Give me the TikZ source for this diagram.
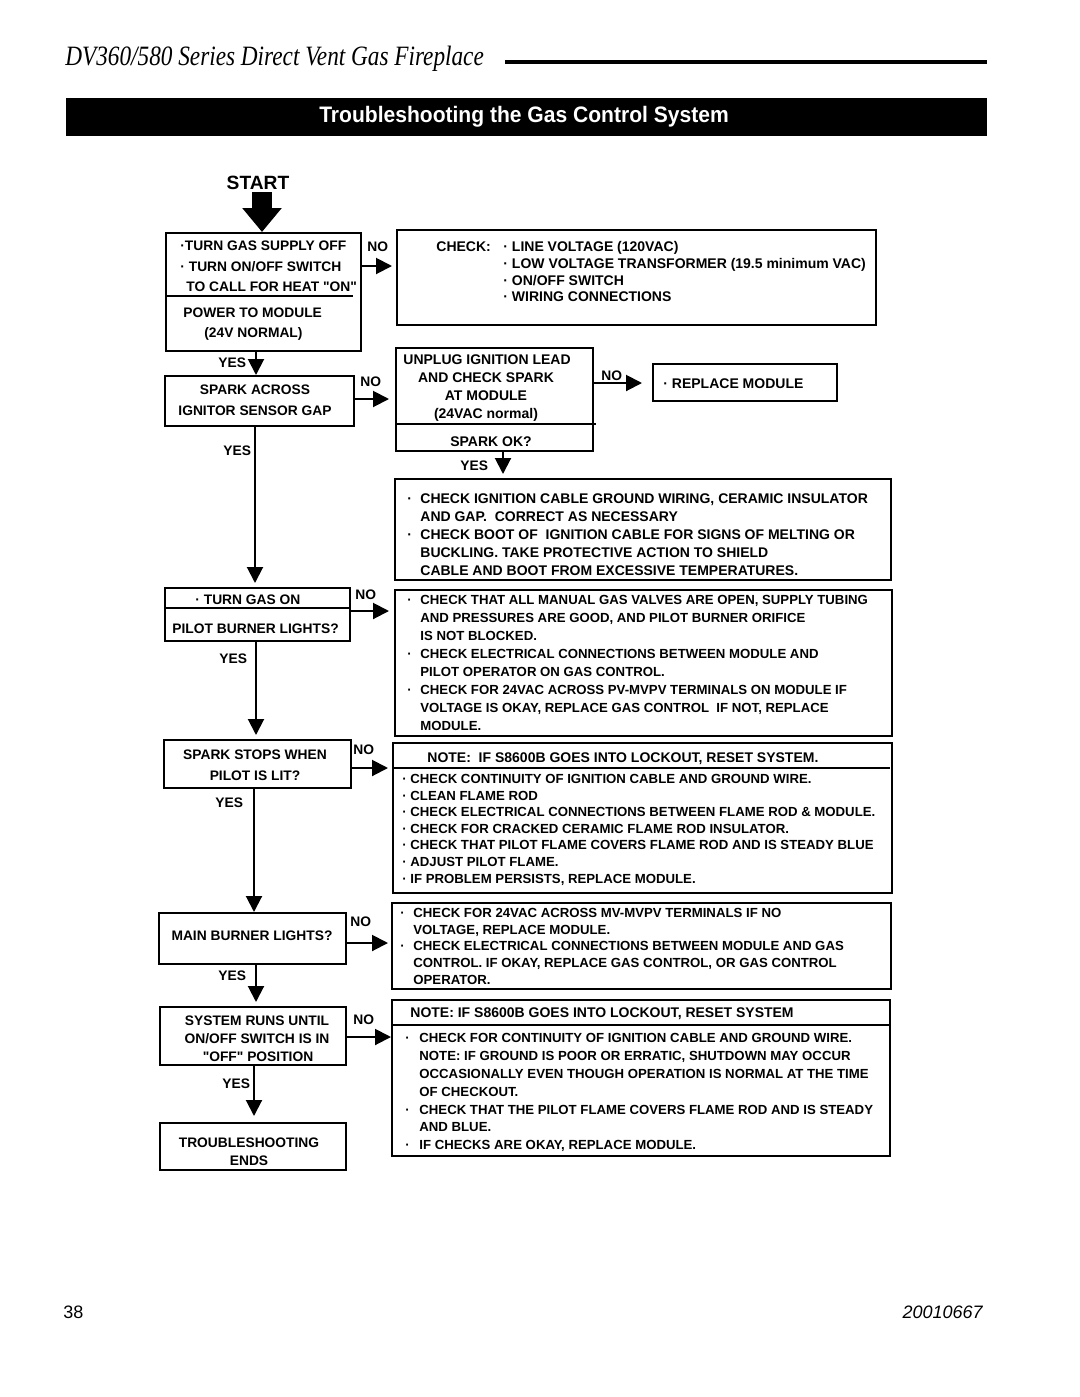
\documentclass[tikz,border=0pt]{standalone}
\usepackage{fontspec}
\setmainfont{Liberation Sans}
\newfontfamily\qfont[Ligatures=TeXOff]{Liberation Sans}
\newfontfamily\hdrfont[FakeStretch=0.83]{Liberation Serif}
\newfontfamily\ttlfont[FakeStretch=0.94]{Liberation Sans}
\usetikzlibrary{arrows.meta,fit}
\newcommand\bul[1]{\makebox[#1][l]{·}}
\newcommand\dq{{\qfont\bfseries\char34}}
\begin{document}
\begin{tikzpicture}[x=0.5pt,y=-0.5pt,
  box/.style={draw, line width=1pt, inner sep=0pt},
  lt/.style={inner sep=0pt, font=\fontsize{6.9}{8}\selectfont\bfseries, text height=5pt, text depth=0pt},
  rt/.style={inner sep=0pt, font=\fontsize{6.6}{8}\selectfont\bfseries, text height=4.7pt, text depth=0pt, anchor=west},
  rtl/.style={inner sep=0pt, font=\fontsize{7}{8}\selectfont\bfseries, text height=5pt, text depth=0pt, anchor=west},
  arr/.style={line width=1pt, -{Triangle[length=8pt,width=8pt]}},
  bigarr/.style={line width=10pt, -{Triangle[length=12pt,width=19pt]}},
  divl/.style={line width=1pt}]
\useasboundingbox (0,0) rectangle (1080,1397);

% header
\node[anchor=base west, inner sep=0pt, font=\hdrfont\itshape\fontsize{14}{16}\selectfont] (hdr) at (65,65) {DV360/580 Series Direct Vent Gas Fireplace};
\draw[line width=2pt] (505,62) -- (987,62);
\node[fill=black, inner sep=0pt, fit={(66,98) (987,136)}] (bar) {};
\node[anchor=base, inner sep=0pt, text=white, font=\ttlfont\bfseries\fontsize{11.2}{13}\selectfont] (title) at (524,122) {Troubleshooting the Gas Control System};

% start
\node[anchor=base, inner sep=0pt, font=\fontsize{9.6}{11}\selectfont\bfseries] (start) at (258,189) {START};
\coordinate (s1) at (262,192);

% left column boxes
\node[box, fit={(166,233) (361,351)}] (b1) {};
\draw[divl] (166,296) -- (353,296);
\node[lt, anchor=west] (b1a) at (180,245) {·TURN GAS SUPPLY OFF};
\node[lt, anchor=west] (b1b) at (180,266) {· TURN ON/OFF SWITCH};
\node[lt, anchor=west] (b1c) at (186,286) {TO CALL FOR HEAT \dq ON\dq};
\node[lt, anchor=west] (b1d) at (183,312) {POWER TO MODULE};
\node[lt, anchor=west] (b1e) at (204,332) {(24V NORMAL)};

\node[box, fit={(165,376) (354,426)}] (b2) {};
\node[lt] (b2a) at (255,389) {SPARK ACROSS};
\node[lt] (b2b) at (255,410) {IGNITOR SENSOR GAP};

\node[box, fit={(165,588) (350,641)}] (b3) {};
\draw[divl] (165,608) -- (350,608);
\node[lt, anchor=west] (b3a) at (195,599) {· TURN GAS ON};
\node[lt, anchor=west] (b3b) at (172,628) {PILOT BURNER LIGHTS?};

\node[box, fit={(164,740) (351,788)}] (b4) {};
\node[lt] (b4a) at (255,754) {SPARK STOPS WHEN};
\node[lt] (b4b) at (255,775) {PILOT IS LIT?};

\node[box, fit={(159,913) (346,964)}] (b5) {};
\node[lt] (b5a) at (252,935) {MAIN BURNER LIGHTS?};

\node[box, fit={(160,1007) (346,1065)}] (b6) {};
\node[lt] (b6a) at (257,1020) {SYSTEM RUNS UNTIL};
\node[lt] (b6b) at (257,1038) {ON/OFF SWITCH IS IN};
\node[lt] (b6c) at (258,1056) {\dq OFF\dq\ POSITION};

\node[box, fit={(160,1123) (346,1170)}] (b7) {};
\node[lt] (b7a) at (249,1142) {TROUBLESHOOTING};
\node[lt] (b7b) at (249,1160) {ENDS};

% right column boxes
\node[box, fit={(397,230) (876,325)}] (chk) {};
\node[rtl] (chk0) at (436,246) {CHECK:};
\node[rtl] (chk1) at (503,246) {· LINE VOLTAGE (120VAC)};
\node[rtl] (chk2) at (503,263) {· LOW VOLTAGE TRANSFORMER (19.5 minimum VAC)};
\node[rtl] (chk3) at (503,280) {· ON/OFF SWITCH};
\node[rtl] (chk4) at (503,296) {· WIRING CONNECTIONS};

\node[box, fit={(396,348) (593,451)}] (unp) {};
\draw[divl] (396,424) -- (596,424);
\node[rtl] (unp1) at (403,359) {UNPLUG IGNITION LEAD};
\node[rtl, anchor=center] (unp2) at (486,377) {AND CHECK SPARK};
\node[rtl, anchor=center] (unp3) at (486,395) {AT MODULE};
\node[rtl, anchor=center] (unp4) at (486,413) {(24VAC normal)};
\node[rtl, anchor=center] (unp5) at (491,441) {SPARK OK?};

\node[box, fit={(653,364) (837,401)}] (rep) {};
\node[rtl] (rep1) at (663,383) {· REPLACE MODULE};

\node[box, fit={(395,479) (891,580)}] (ign) {};
\node[rtl] (ign1) at (407,498) {\bul{6.5pt}CHECK IGNITION CABLE GROUND WIRING, CERAMIC INSULATOR};
\node[rtl] (ign2) at (420,516) {AND GAP.\ \ CORRECT AS NECESSARY};
\node[rtl] (ign3) at (407,534) {\bul{6.5pt}CHECK BOOT OF\ \ IGNITION CABLE FOR SIGNS OF MELTING OR};
\node[rtl] (ign4) at (420,552) {BUCKLING. TAKE PROTECTIVE ACTION TO SHIELD};
\node[rtl] (ign5) at (420,570) {CABLE AND BOOT FROM EXCESSIVE TEMPERATURES.};

\node[box, fit={(395,590) (892,736)}] (pil) {};
\node[rt] (pil1) at (407,600) {\bul{6.5pt}CHECK THAT ALL MANUAL GAS VALVES ARE OPEN, SUPPLY TUBING};
\node[rt] (pil2) at (420,618) {AND PRESSURES ARE GOOD, AND PILOT BURNER ORIFICE};
\node[rt] (pil3) at (420,636) {IS NOT BLOCKED.};
\node[rt] (pil4) at (407,654) {\bul{6.5pt}CHECK ELECTRICAL CONNECTIONS BETWEEN MODULE AND};
\node[rt] (pil5) at (420,672) {PILOT OPERATOR ON GAS CONTROL.};
\node[rt] (pil6) at (407,690) {\bul{6.5pt}CHECK FOR 24VAC ACROSS PV-MVPV TERMINALS ON MODULE IF};
\node[rt] (pil7) at (420,708) {VOLTAGE IS OKAY, REPLACE GAS CONTROL\ \ IF NOT, REPLACE};
\node[rt] (pil8) at (420,726) {MODULE.};

\node[box, fit={(393,743) (892,893)}] (n1) {};
\draw[divl] (393,768) -- (890,768);
\node[rtl] (n1h) at (427,757) {NOTE:\ \ IF S8600B GOES INTO LOCKOUT, RESET SYSTEM.};
\node[rt] (n1a) at (402,779) {\bul{4pt}CHECK CONTINUITY OF IGNITION CABLE AND GROUND WIRE.};
\node[rt] (n1b) at (402,796) {\bul{4pt}CLEAN FLAME ROD};
\node[rt] (n1c) at (402,812) {\bul{4pt}CHECK ELECTRICAL CONNECTIONS BETWEEN FLAME ROD \& MODULE.};
\node[rt] (n1d) at (402,829) {\bul{4pt}CHECK FOR CRACKED CERAMIC FLAME ROD INSULATOR.};
\node[rt] (n1e) at (402,845) {\bul{4pt}CHECK THAT PILOT FLAME COVERS FLAME ROD AND IS STEADY BLUE};
\node[rt] (n1f) at (402,862) {\bul{4pt}ADJUST PILOT FLAME.};
\node[rt] (n1g) at (402,879) {\bul{4pt}IF PROBLEM PERSISTS, REPLACE MODULE.};

\node[box, fit={(392,903) (891,989)}] (mv) {};
\node[rt] (mv1) at (400,913) {\bul{6.5pt}CHECK FOR 24VAC ACROSS MV-MVPV TERMINALS IF NO};
\node[rt] (mv2) at (413,930) {VOLTAGE, REPLACE MODULE.};
\node[rt] (mv3) at (400,946) {\bul{6.5pt}CHECK ELECTRICAL CONNECTIONS BETWEEN MODULE AND GAS};
\node[rt] (mv4) at (413,963) {CONTROL. IF OKAY, REPLACE GAS CONTROL, OR GAS CONTROL};
\node[rt] (mv5) at (413,980) {OPERATOR.};

\node[box, fit={(392,1000) (890,1156)}] (n2) {};
\draw[divl] (392,1025) -- (890,1025);
\node[rtl] (n2h) at (410,1012) {NOTE: IF S8600B GOES INTO LOCKOUT, RESET SYSTEM};
\node[rt] (n2a) at (405,1038) {\bul{7pt}CHECK FOR CONTINUITY OF IGNITION CABLE AND GROUND WIRE.};
\node[rt] (n2b) at (419,1056) {NOTE: IF GROUND IS POOR OR ERRATIC, SHUTDOWN MAY OCCUR};
\node[rt] (n2c) at (419,1074) {OCCASIONALLY EVEN THOUGH OPERATION IS NORMAL AT THE TIME};
\node[rt] (n2d) at (419,1092) {OF CHECKOUT.};
\node[rt] (n2e) at (405,1110) {\bul{7pt}CHECK THAT THE PILOT FLAME COVERS FLAME ROD AND IS STEADY};
\node[rt] (n2f) at (419,1127) {AND BLUE.};
\node[rt] (n2g) at (405,1145) {\bul{7pt}IF CHECKS ARE OKAY, REPLACE MODULE.};

% labels
\node[lt, anchor=west] (no1) at (367,246) {NO};
\node[lt, anchor=west] (yes1) at (218,362) {YES};
\node[lt, anchor=west] (no2) at (360,381) {NO};
\node[lt, anchor=west] (no3) at (601,375) {NO};
\node[lt, anchor=west] (yes2) at (460,465) {YES};
\node[lt, anchor=west] (yes3) at (223,450) {YES};
\node[lt, anchor=west] (no4) at (355,594) {NO};
\node[lt, anchor=west] (yes4) at (219,658) {YES};
\node[lt, anchor=west] (no5) at (353,749) {NO};
\node[lt, anchor=west] (yes5) at (215,802) {YES};
\node[lt, anchor=west] (no6) at (350,921) {NO};
\node[lt, anchor=west] (yes6) at (218,975) {YES};
\node[lt, anchor=west] (no7) at (353,1019) {NO};
\node[lt, anchor=west] (yes7) at (222,1083) {YES};

% connectors
\draw[bigarr] (s1) -- (s1 |- b1.north);
\draw[arr, shorten >=2pt] (b1.east |- 0,266) -- (chk.west |- 0,266);
\draw[arr] (b1.south -| 256,0) -- (b2.north -| 256,0);
\draw[arr, shorten >=3pt] (b2.east |- 0,399) -- (unp.west |- 0,399);
\draw[arr, shorten >=5pt] (unp.east |- 0,383) -- (rep.west |- 0,383);
\draw[arr, shorten >=2pt] (unp.south -| 503,0) -- (ign.north -| 503,0);
\draw[arr, shorten >=2pt] (b2.south -| 255,0) -- (b3.north -| 255,0);
\draw[arr, shorten >=2.5pt] (b3.east |- 0,611) -- (pil.west |- 0,611);
\draw[arr, shorten >=2pt] (b3.south -| 256,0) -- (b4.north -| 256,0);
\draw[arr, shorten >=2pt] (b4.east |- 0,768) -- (n1.west |- 0,768);
\draw[arr] (b4.south -| 254,0) -- (b5.north -| 254,0);
\draw[arr, shorten >=1.5pt] (b5.east |- 0,943) -- (mv.west |- 0,943);
\draw[arr, shorten >=2pt] (b5.south -| 256,0) -- (b6.north -| 256,0);
\draw[arr] (b6.east |- 0,1037) -- (n2.west |- 0,1037);
\draw[arr, shorten >=3pt] (b6.south -| 254,0) -- (b7.north -| 254,0);

% footer
\node[anchor=base west, inner sep=0pt, font=\fontsize{9}{11}\selectfont] (pg) at (63,1318) {38};
\node[anchor=base east, inner sep=0pt, font=\fontsize{9}{11}\selectfont\itshape] (doc) at (983,1318) {20010667};
\end{tikzpicture}
\end{document}
